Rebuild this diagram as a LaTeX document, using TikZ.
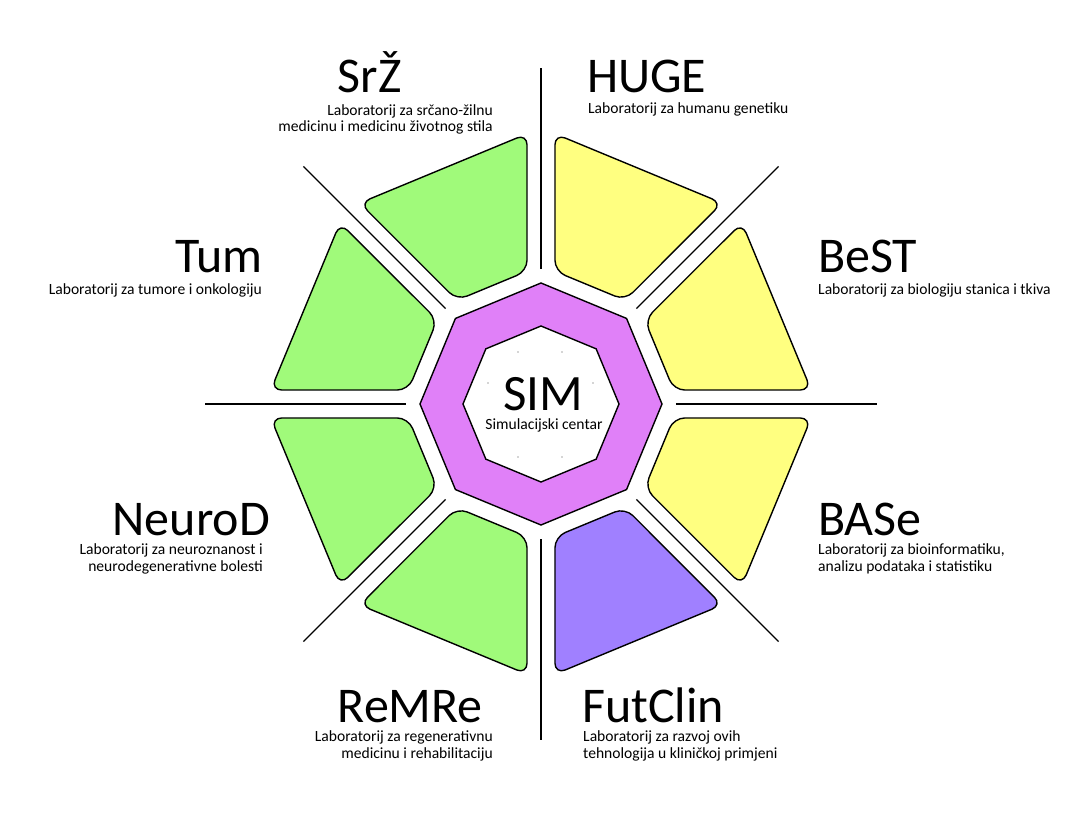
\documentclass[tikz,border=0pt]{standalone}
\usepackage{fontspec}
\setmainfont{Carlito}
\usepackage{xcolor}
\definecolor{labgreen}{RGB}{160,250,122}
\definecolor{labyellow}{RGB}{255,255,128}
\definecolor{simpurple}{RGB}{224,128,248}
\definecolor{clinviolet}{RGB}{160,128,255}
\usepackage{tikz}
\newcommand{\innerapo}{128}
\newcommand{\outerapo}{255}
\newcommand{\segment}[2]{%
  \draw[segment, fill=#2, rotate=#1] (\innerapo,37.9) -- (\outerapo,90.5) -- (\outerapo,-90.5) -- (\innerapo,-37.9) -- cycle;}
\tikzset{
    divider/.style={draw, line width=1.4pt},
    segment/.style={draw, line width=1.4pt, rounded corners=11pt},
    ring/.style={draw, line width=1.4pt, fill=simpurple},
    hole/.style={draw, line width=1.4pt, fill=white},
    bigname/.style={inner sep=0pt, font=\fontsize{50}{50}\selectfont},
    subname/.style={inner sep=0pt, font=\fontsize{15.6}{16.3}\selectfont},
    tinydot/.style={fill=black!70, radius=0.7}
}

\begin{document}
\begin{tikzpicture}[x=1pt, y=1pt]
              \useasboundingbox (-541,-413) rectangle (539,404);

              \foreach \a in {0,45,...,315}
                  \draw[divider] (\a:135) -- (\a:336);

              \segment{67.5}{labyellow}
              \segment{22.5}{labyellow}
              \segment{-22.5}{labyellow}
              \segment{-67.5}{clinviolet}
              \segment{-112.5}{labgreen}
              \segment{-157.5}{labgreen}
              \segment{157.5}{labgreen}
              \segment{112.5}{labgreen}

              \draw[ring] (0:121) -- (45:121) -- (90:121) -- (135:121) -- (180:121) -- (225:121) -- (270:121) -- (315:121) -- cycle;
              \draw[hole] (0:78) -- (45:78) -- (90:78) -- (135:78) -- (180:78) -- (225:78) -- (270:78) -- (315:78) -- cycle;
              \foreach \p in {(-23,52),(21,52),(-53,21),(52,21),(-23,-53),(21,-53)}
                  \fill[tinydot] \p circle;

              \node[inner sep=0pt, anchor=base, font=\fontsize{51}{51}\selectfont] (sim) at (2,-6) {SIM};
              \node[subname, anchor=base] (simsub) at (3,-25) {Simulacijski centar};

              \node[bigname, anchor=base east] (srz) at (-139,311) {SrŽ};
              \node[subname, anchor=base east, align=right] (srzsub) at (-48,272) {Laboratorij za srčano-žilnu\\medicinu i medicinu životnog stila};

              \node[bigname, anchor=base west] (huge) at (46,311) {HUGE};
              \node[subname, anchor=base west, align=left] (hugesub) at (47,290) {Laboratorij za humanu genetiku};

              \node[bigname, anchor=base east] (tum) at (-278,131) {Tum};
              \node[subname, anchor=base east, align=right] (tumsub) at (-279,110) {Laboratorij za tumore i onkologiju};

              \node[bigname, anchor=base west] (best) at (277,131) {BeST};
              \node[subname, anchor=base west, align=left] (bestsub) at (277,109) {Laboratorij za biologiju stanica i tkiva};

              \node[bigname, anchor=base east] (neurod) at (-271,-131) {NeuroD};
              \node[subname, anchor=base east, align=right] (neurodsub) at (-278,-167) {Laboratorij za neuroznanost i\\neurodegenerativne bolesti};

              \node[bigname, anchor=base west] (base) at (277,-131) {BASe};
              \node[subname, anchor=base west, align=left] (basesub) at (277,-167) {Laboratorij za bioinformatiku,\\analizu podataka i statistiku};

              \node[bigname, anchor=base east] (remre) at (-58,-318) {ReMRe};
              \node[subname, anchor=base east, align=right] (remresub) at (-48,-354) {Laboratorij za regenerativnu\\medicinu i rehabilitaciju};

              \node[bigname, anchor=base west] (futclin) at (41,-318) {FutClin};
              \node[subname, anchor=base west, align=left] (futclinsub) at (42,-354) {Laboratorij za razvoj ovih\\tehnologija u kliničkoj primjeni};

          \end{tikzpicture}
\end{document}
